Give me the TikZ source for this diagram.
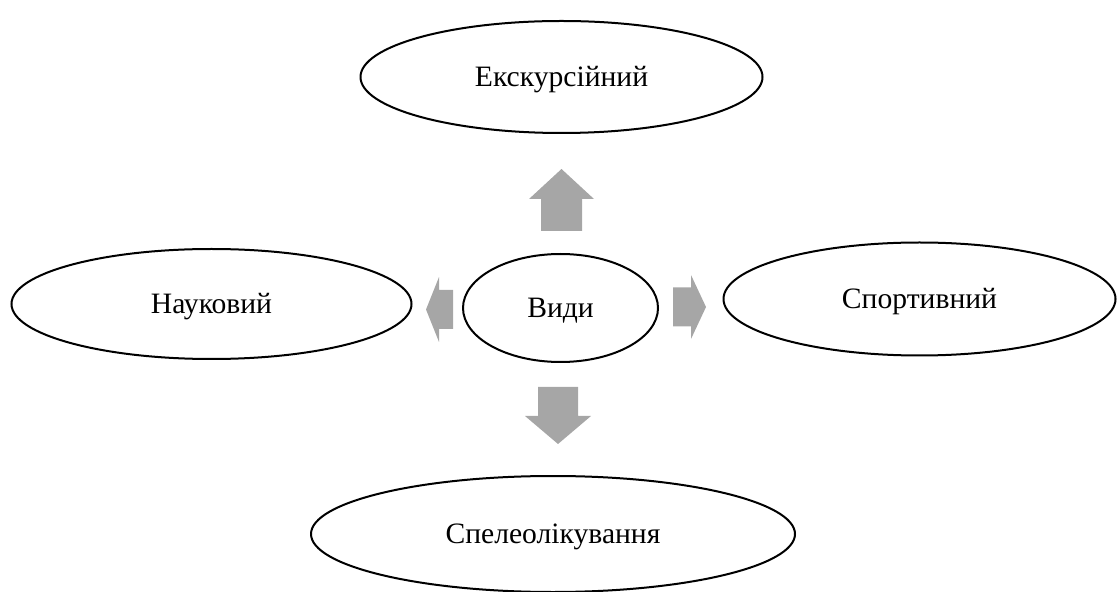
\documentclass[tikz,border=0pt]{standalone}
\usepackage{fontspec}
\setmainfont{Liberation Serif}
\usetikzlibrary{shapes.geometric}

\definecolor{arrowgray}{RGB}{166,166,166}

%% block arrow: x, y of tail, angle, length, head length, head half width, shaft half width
\newcommand{\blockarr}[7]{%
	\begin{scope}[shift={(#1,#2)}, rotate=#3]
		\fill[arrowgray] (0,-#7) -- (#4-#5,-#7) -- (#4-#5,-#6) -- (#4,0) -- (#4-#5,#6) -- (#4-#5,#7) -- (0,#7) -- cycle;
	\end{scope}}

\begin{document}
\begin{tikzpicture}[x=0.5pt, y=-0.5pt,
		kind/.style={shape=ellipse, draw=black, line width=1pt, inner sep=0pt,
			text height=9.8pt, text depth=0pt,
			font=\fontsize{14.8}{17}\selectfont}]
			\useasboundingbox (0,0) rectangle (1117,592);

			\node[kind, minimum width=201pt, minimum height=56pt] (exc) at (561.5,77) {Екскурсійний};
			\node[kind, minimum width=200pt, minimum height=55pt] (nauk) at (211.5,304) {Науковий};
			\node[kind, minimum width=97.5pt, minimum height=54pt] (vydy) at (560.5,308) {Види};
			\node[kind, minimum width=196pt, minimum height=56.5pt] (sport) at (919.5,299) {Спортивний};
			\node[kind, minimum width=242pt, minimum height=58pt] (speleo) at (553,534) {Спелеолікування};

			%% arrows
			\blockarr{561.5}{231}{90}{62}{30}{32.5}{20.5}
			\blockarr{453}{309.5}{180}{27}{13}{32.5}{19.5}
			\blockarr{673}{307}{0}{33}{15}{32}{19.5}
			\blockarr{558}{387}{-90}{57}{28}{33}{20}
\end{tikzpicture}
\end{document}
